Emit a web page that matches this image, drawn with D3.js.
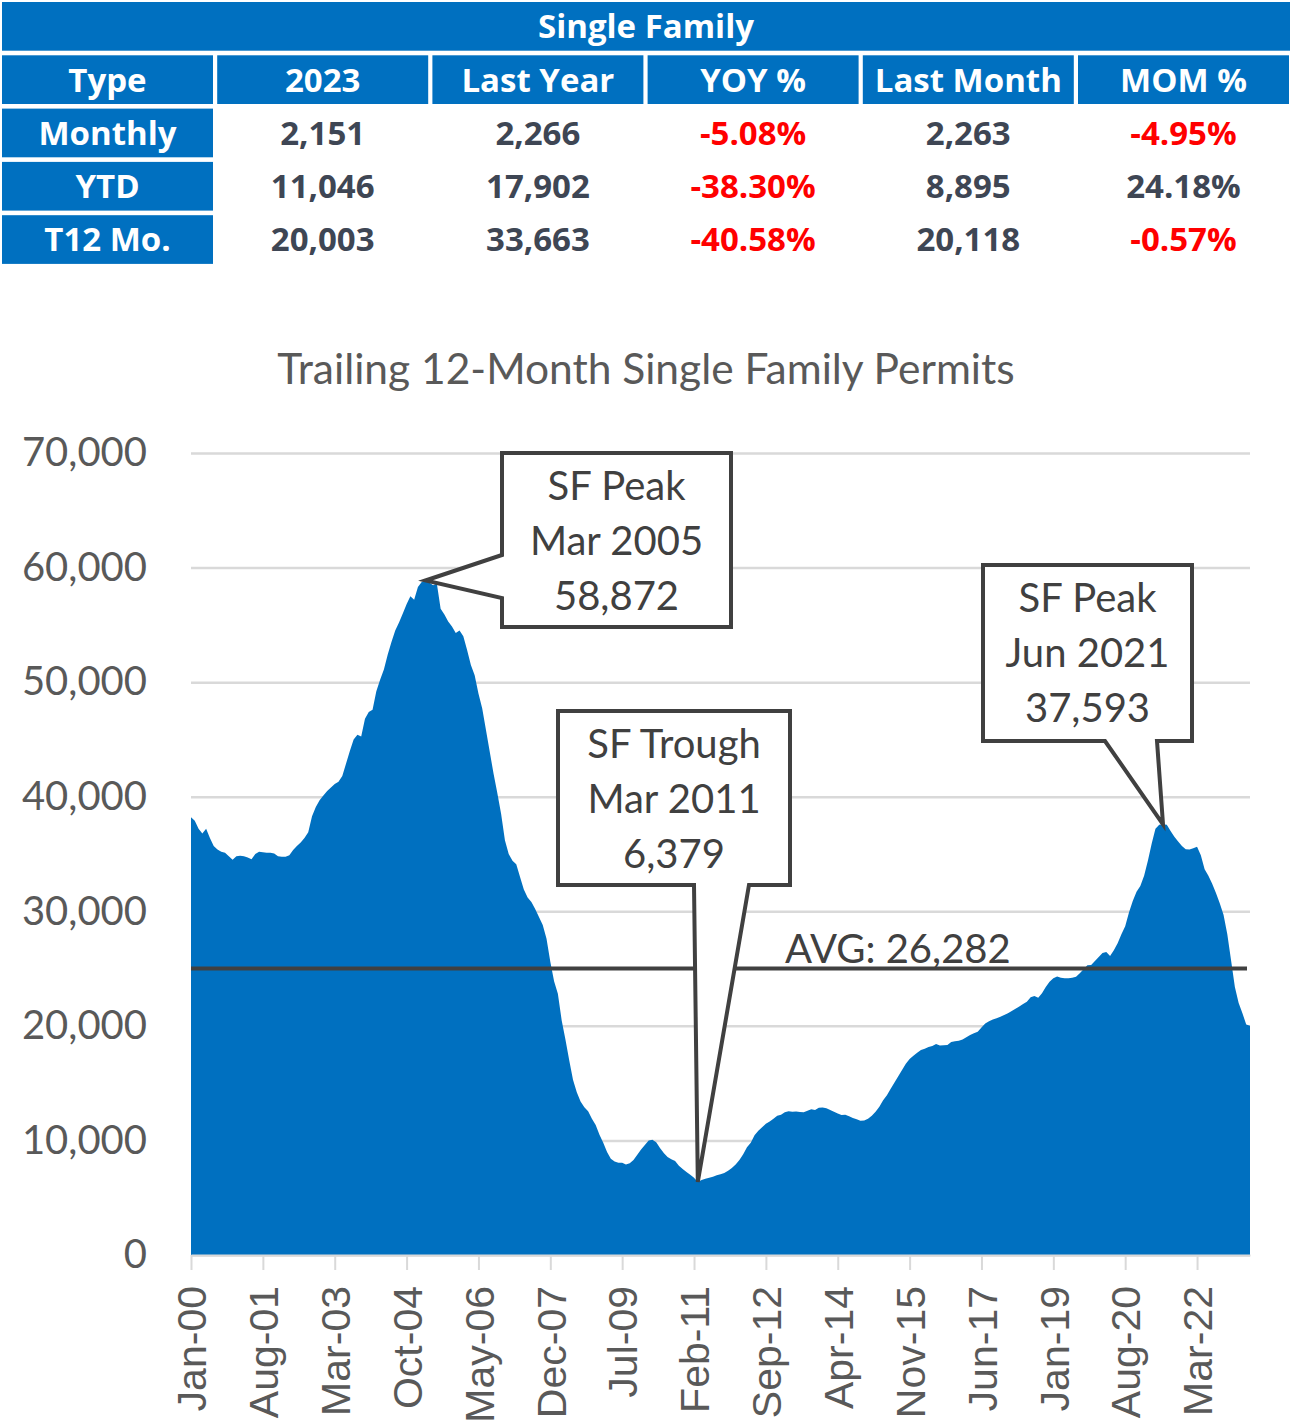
<!DOCTYPE html>
<html>
    <head>
        <title>Single Family Permits</title>
        <script src="https://d3js.org/d3.v7.min.js"></script>
        <style>
            body { margin: 0; background: white; }
            .cell-text { font-family: 'Open Sans', sans-serif; font-weight: 700; font-size: 33px; }
            .chart-text { font-family: Lato, sans-serif; }
        </style>
    </head>
    <body>
        <svg id='canvas' width=1292 height=1427></svg>
        <script>
            // colors
            const blue = '#0070C0'
            const grid = '#D9D9D9'
            const labelGray = '#595959'
            const darkGray = '#404040'
            const cellText = '#3E4654'
            const red = '#FF0000'

            // table data
            const tableTitle = 'Single Family'
            const tableHeaders = ['Type', '2023', 'Last Year', 'YOY %', 'Last Month', 'MOM %']
            const rowLabels = ['Monthly', 'YTD', 'T12 Mo.']
            const current = ['2,151', '11,046', '20,003']
            const lastYear = ['2,266', '17,902', '33,663']
            const yoy = ['-5.08%', '-38.30%', '-40.58%']
            const lastMonth = ['2,263', '8,895', '20,118']
            const mom = ['-4.95%', '24.18%', '-0.57%']

            // chart data: trailing 12-month SF permits, Jan 2000 - May 2023
            const startMonth = new Date(2000, 0, 1)
            const t12Permits = [
                38200, 37900, 37200, 36800, 37200, 36400, 35700, 35400, 35200, 35100, 34800, 34500,
                34800, 34850, 34800, 34700, 34550, 35000, 35200, 35150, 35100, 35100, 35050, 34800,
                34750, 34750, 34900, 35350, 35700, 36000, 36400, 36900, 38300, 39100, 39700, 40100,
                40500, 40800, 41100, 41300, 41800, 42900, 44000, 45000, 45400, 45250, 46800, 47400,
                47600, 49200, 50200, 51100, 52400, 53500, 54500, 55200, 56000, 56800, 57500, 57200,
                58300, 58750, 58872, 58700, 58450, 58600, 56400, 55900, 55300, 54850, 54300, 54500,
                54000, 52800, 51500, 50600, 49000, 47700, 45800, 43900, 42000, 40300, 38500, 36200,
                35000, 34400, 34100, 33000, 31900, 31200, 30800, 30200, 29500, 28800, 27600, 25600,
                23900, 22800, 20500, 18800, 17000, 15300, 14200, 13400, 12900, 12550, 11900, 11350,
                10500, 9800, 9000, 8400, 8150, 8050, 8050, 7900, 8000, 8300, 8750, 9200,
                9600, 10000, 10050, 9850, 9350, 8900, 8550, 8350, 8200, 7800, 7500, 7250,
                7000, 6750, 6379, 6550, 6650, 6750, 6830, 6950, 7050, 7150, 7350, 7600,
                7900, 8300, 8800, 9400, 9800, 10450, 10850, 11150, 11450, 11650, 11900, 12150,
                12250, 12450, 12550, 12500, 12520, 12480, 12450, 12600, 12720, 12650, 12850, 12880,
                12800, 12650, 12500, 12350, 12220, 12250, 12100, 11950, 11850, 11720, 11750, 11900,
                12150, 12500, 12950, 13500, 13950, 14500, 15050, 15600, 16150, 16700, 17100, 17400,
                17650, 17900, 18000, 18150, 18250, 18420, 18280, 18300, 18330, 18600, 18650, 18700,
                18800, 19000, 19200, 19350, 19480, 19850, 20200, 20400, 20550, 20660, 20800, 20950,
                21100, 21300, 21500, 21680, 21900, 22110, 22500, 22600, 22450, 22840, 23400, 23850,
                24150, 24300, 24200, 24150, 24150, 24200, 24290, 24600, 24950, 25300, 25310, 25650,
                26000, 26350, 26450, 26100, 26600, 27200, 28000, 28700, 29900, 30900, 31700, 32200,
                33100, 34400, 35900, 37200, 37550, 37593, 37550, 37000, 36500, 36100, 35700, 35410,
                35400, 35500, 35640, 34900, 33663, 33100, 32400, 31600, 30700, 29700, 28000, 25700,
                23400, 22000, 21100, 20118, 20003
            ]
            const xTickLabels = ['Jan-00', 'Aug-01', 'Mar-03', 'Oct-04', 'May-06', 'Dec-07', 'Jul-09',
                'Feb-11', 'Sep-12', 'Apr-14', 'Nov-15', 'Jun-17', 'Jan-19', 'Aug-20', 'Mar-22']
            const yTicks = [0, 10000, 20000, 30000, 40000, 50000, 60000, 70000]
            const chartTitle = 'Trailing 12-Month Single Family Permits'
            const avgValue = 25000
            const avgLabel = 'AVG: 26,282'

            // callouts: month label of the point and text lines
            const calloutMonths = ['Mar-05', 'Mar-11', 'Jun-21']
            const calloutLines = [
                ['SF Peak', 'Mar 2005', '58,872'],
                ['SF Trough', 'Mar 2011', '6,379'],
                ['SF Peak', 'Jun 2021', '37,593']
            ]

            const fmtMonth = d3.timeFormat('%b-%y')
            const months = t12Permits.map((d, i) => fmtMonth(d3.timeMonth.offset(startMonth, i)))

            const svg = d3.select('#canvas')
            svg.append('rect').attr('width', 1292).attr('height', 1427).attr('fill', 'white')

            // ---- table ----
            const colW = 211, colStep = 215.2, rowH = 48.7, rowStep = 53.3
            const tbl = svg.append('g').attr('transform', 'translate(2, 2)')

            tbl.append('rect').attr('width', 1288).attr('height', rowH).attr('fill', blue)
            tbl.append('text').text(tableTitle)
                .attr('x', 644).attr('y', rowH / 2).attr('dy', '0.36em')
                .attr('text-anchor', 'middle').attr('fill', 'white').classed('cell-text', true)

            const headerRow = tbl.append('g').attr('transform', `translate(0, ${rowStep})`)
            headerRow.selectAll('rect').data(tableHeaders).enter().append('rect')
                .attr('x', (d, i) => i * colStep).attr('width', colW).attr('height', rowH)
                .attr('fill', blue)
            headerRow.selectAll('text').data(tableHeaders).enter().append('text')
                .text(d => d)
                .attr('x', (d, i) => i * colStep + colW / 2).attr('y', rowH / 2).attr('dy', '0.36em')
                .attr('text-anchor', 'middle').attr('fill', 'white').classed('cell-text', true)

            const bodyRows = rowLabels.map((label, r) => [label, current[r], lastYear[r], yoy[r], lastMonth[r], mom[r]])
            bodyRows.forEach((row, r) => {
                const g = tbl.append('g').attr('transform', `translate(0, ${(r + 2) * rowStep})`)
                g.append('rect').attr('width', colW).attr('height', rowH).attr('fill', blue)
                g.selectAll('text').data(row).enter().append('text')
                    .text(d => d)
                    .attr('x', (d, i) => i * colStep + colW / 2).attr('y', rowH / 2).attr('dy', '0.36em')
                    .attr('text-anchor', 'middle')
                    .attr('fill', (d, i) => i === 0 ? 'white' : (d.startsWith('-') ? red : cellText))
                    .classed('cell-text', true)
            })

            // ---- chart ----
            const plot = { left: 191, right: 1250, top: 453, bottom: 1255 }
            const xScale = d3.scalePoint().domain(months).range([plot.left, plot.right])
            const yScale = d3.scaleLinear().domain([0, 70000]).range([plot.bottom, plot.top])

            svg.append('text').text(chartTitle)
                .attr('x', 646).attr('y', 384)
                .attr('text-anchor', 'middle').attr('fill', labelGray)
                .style('font-size', '42.5px').classed('chart-text', true)

            // y axis with gridlines
            const yAxis = d3.axisLeft(yScale).tickValues(yTicks)
                .tickFormat(d3.format(',')).tickSize(-(plot.right - plot.left)).tickPadding(44)
            const yg = svg.append('g').attr('transform', `translate(${plot.left}, 0)`).call(yAxis)
            yg.select('.domain').remove()
            yg.selectAll('line').attr('stroke', grid).attr('stroke-width', 2.5)
            yg.selectAll('text').attr('fill', labelGray)
                .style('font-family', 'Lato, sans-serif').style('font-size', '40px')

            // area
            const area = d3.area()
                .x((d, i) => xScale(months[i]))
                .y0(yScale(0))
                .y1(d => yScale(d))
            svg.append('path').datum(t12Permits).attr('d', area).attr('fill', blue)

            // average line
            svg.append('line')
                .attr('x1', plot.left).attr('x2', plot.right - 3)
                .attr('y1', yScale(avgValue)).attr('y2', yScale(avgValue))
                .attr('stroke', darkGray).attr('stroke-width', 4)
            svg.append('text').text(avgLabel)
                .attr('x', 785).attr('y', yScale(avgValue) - 6)
                .attr('fill', darkGray).style('font-size', '40px').classed('chart-text', true)

            // callout boxes (box + pointer wedge, filled white)
            const boxes = [
                { x0: 502, y0: 453, x1: 731, y1: 627, side: 'left', a: 555, b: 598 },
                { x0: 558, y0: 711, x1: 790, y1: 885, side: 'bottom', a: 694, b: 749 },
                { x0: 983, y0: 565, x1: 1192, y1: 741, side: 'bottom', a: 1105, b: 1157 }
            ]
            boxes.forEach((bx, k) => {
                const idx = months.indexOf(calloutMonths[k])
                const tx = xScale(months[idx]), ty = yScale(t12Permits[idx])
                let p
                if (bx.side === 'left') {
                    p = `M${bx.x0},${bx.y0}H${bx.x1}V${bx.y1}H${bx.x0}V${bx.b}L${tx},${ty}L${bx.x0},${bx.a}Z`
                } else {
                    p = `M${bx.x0},${bx.y0}H${bx.x1}V${bx.y1}H${bx.b}L${tx},${ty}L${bx.a},${bx.y1}H${bx.x0}Z`
                }
                svg.append('path').attr('d', p)
                    .attr('fill', 'white').attr('stroke', darkGray)
                    .attr('stroke-width', 4).attr('stroke-linejoin', 'miter')
                const cx = (bx.x0 + bx.x1) / 2
                svg.append('g').selectAll('text').data(calloutLines[k]).enter().append('text')
                    .text(d => d)
                    .attr('x', cx).attr('y', (d, i) => bx.y0 + 47 + i * 55)
                    .attr('text-anchor', 'middle').attr('fill', darkGray)
                    .style('font-size', '40px').classed('chart-text', true)
            })

            // x axis
            const xAxis = d3.axisBottom(xScale).tickValues(xTickLabels).tickSize(15).tickSizeOuter(0)
            const xg = svg.append('g').attr('transform', `translate(0, ${plot.bottom})`).call(xAxis)
            xg.select('.domain').attr('stroke', grid).attr('stroke-width', 2)
            xg.selectAll('line').attr('stroke', grid).attr('stroke-width', 2)
            xg.selectAll('text')
                .attr('transform', 'rotate(-90)')
                .attr('x', -31).attr('y', 0).attr('dy', '0.36em')
                .style('text-anchor', 'end')
                .attr('fill', labelGray)
                .style('font-family', '"Liberation Sans", Arial, sans-serif')
                .style('font-size', '41px')
        </script>
    </body>
</html>
